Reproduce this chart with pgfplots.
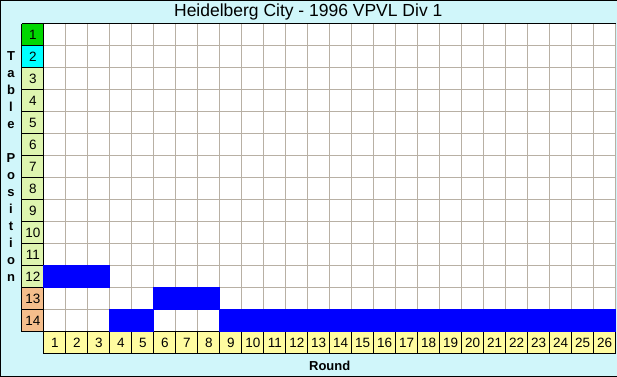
\documentclass[border=0pt]{standalone}
\usepackage{pgfplots}
\pgfplotsset{compat=1.18}
\usepackage{fontspec}
\setmainfont{Liberation Sans}
\definecolor{bg}{RGB}{208,246,250}
\definecolor{gridc}{RGB}{184,176,164}
\definecolor{pgreen}{RGB}{0,215,0}
\definecolor{pcyan}{RGB}{0,255,255}
\definecolor{plight}{RGB}{222,245,175}
\definecolor{psalmon}{RGB}{245,190,140}
\definecolor{pyellow}{RGB}{255,252,160}
\begin{document}
\begin{tikzpicture}
\fill[bg] (0pt,0pt) rectangle (617pt,377pt);
\draw[black, line width=1pt] (617pt,376.5pt) -- (0.5pt,376.5pt) -- (0.5pt,0.5pt) -- (617pt,0.5pt);
\node[font=\fontsize{17.5}{20}\selectfont] at (308.5pt,365pt) {Heidelberg City - 1996 VPVL Div 1};
\node[font=\bfseries\fontsize{13}{15}\selectfont] at (330pt,11pt) {Round};
\foreach \l [count=\k from 0] in {T,a,b,l,e,{},P,o,s,i,t,i,o,n}
  \node[font=\bfseries\fontsize{13}{15}\selectfont, anchor=base] at (11pt,{(377-61-17*\k)*1pt}) {\l};
% position colour column and round row
\fill[pgreen] (22pt,331pt) rectangle (44pt,353pt);
\fill[pcyan] (22pt,309pt) rectangle (44pt,331pt);
\fill[plight] (22pt,89pt) rectangle (44pt,309pt);
\fill[psalmon] (22pt,45pt) rectangle (44pt,89pt);
\fill[pyellow] (44pt,23pt) rectangle (616pt,45pt);
\begin{axis}[
  at={(44pt,45pt)}, anchor=south west,
  scale only axis, width=572pt, height=308pt,
  xmin=0.5, xmax=26.5, ymin=0.5, ymax=14.5,
  y dir=reverse, clip=false,
  axis line style={draw=none},
  axis background/.style={fill=white},
  xtick={1,...,26}, ytick={1,...,14},
  major tick length=0pt, minor tick length=0pt,
  minor x tick num=1, minor y tick num=1,
  xminorgrids=true, yminorgrids=true,
  minor grid style={gridc, line width=1pt},
  xticklabel style={anchor=center, yshift=-11pt},
  yticklabel style={anchor=center, xshift=-11pt},
  ticklabel style={font=\fontsize{13.5}{15}\selectfont, text=black},
  /pgf/number format/assume math mode=true,
]
\draw[gridc, line width=1pt] (axis cs:26.5,0.5) -- (axis cs:26.5,14.5);

\addplot[only marks, mark=square*, mark size=11pt, color=blue,
  mark options={fill=blue, draw=blue, line width=0pt}] coordinates {
  (1,12) (2,12) (3,12) (4,14) (5,14) (6,13) (7,13) (8,13)
  (9,14) (10,14) (11,14) (12,14) (13,14) (14,14) (15,14) (16,14)
  (17,14) (18,14) (19,14) (20,14) (21,14) (22,14) (23,14) (24,14)
  (25,14) (26,14)};

\draw[black, line width=1pt] (axis cs:-0.5,0.5) -- (axis cs:26.5,0.5);
\draw[black, line width=1pt] (axis cs:-0.5,0.5) -- (axis cs:-0.5,14.5);
\draw[black, line width=1pt] (axis cs:0.5,0.5) -- (axis cs:0.5,15.5);
\pgfplotsinvokeforeach{1.5,2.5,3.5,4.5,5.5,6.5,7.5,8.5,9.5,10.5,11.5,12.5,13.5}{
  \draw[black, line width=1pt] (axis cs:-0.5,#1) -- (axis cs:0.5,#1);
}
\draw[black, line width=1pt] (axis cs:-0.5,14.5) -- (axis cs:26.5,14.5);
\draw[black, line width=1pt] (axis cs:0.5,15.5) -- (axis cs:26.5,15.5);
\pgfplotsinvokeforeach{1.5,2.5,3.5,4.5,5.5,6.5,7.5,8.5,9.5,10.5,11.5,12.5,13.5,14.5,15.5,16.5,17.5,18.5,19.5,20.5,21.5,22.5,23.5,24.5,25.5,26.5}{
  \draw[black, line width=1pt] (axis cs:#1,14.5) -- (axis cs:#1,15.5);
}
\end{axis}
\end{tikzpicture}
\end{document}
